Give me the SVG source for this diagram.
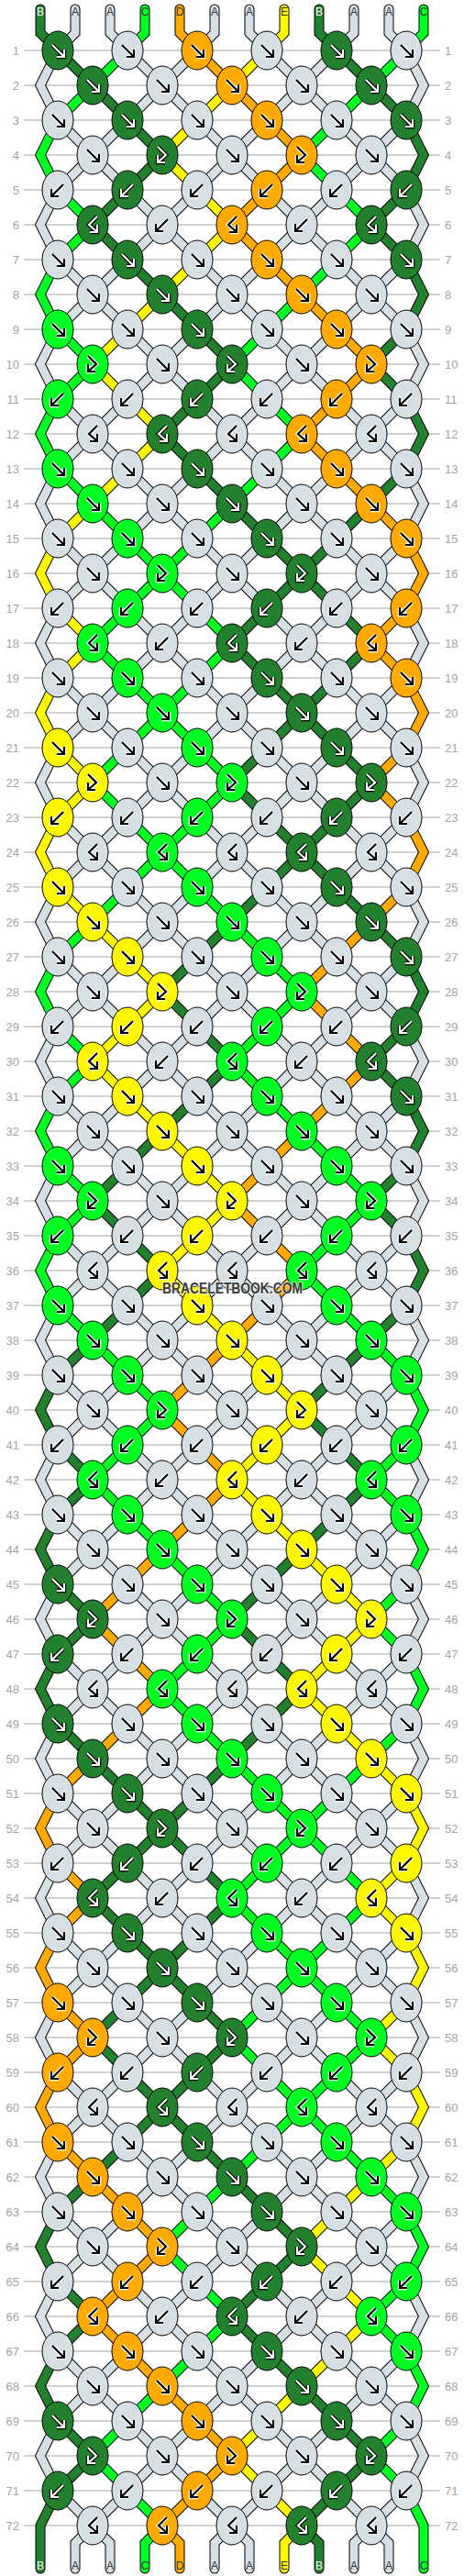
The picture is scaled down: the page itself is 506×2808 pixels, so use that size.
<svg xmlns="http://www.w3.org/2000/svg" width="506" height="2808" viewBox="0 0 506 2808">
<style>
.n{font-family:"Liberation Sans",Arial,sans-serif;font-size:13px;fill:#a3a3a3}
.ne{text-anchor:end}
.lb{font-family:"Liberation Sans",Arial,sans-serif;font-size:12px;text-anchor:middle;fill:#333}
.lw{fill:#fff}
</style>
<defs>
<path id="pf" fill="none" d="M-6-6L6 6M-1 7H7V-1"/>
<path id="pb" fill="none" d="M6-6L-6 6M1 7H-7V-1"/>
<path id="pfb" fill="none" d="M-5-9L4 0L-4 7M-5 0V8H3"/>
<path id="pbf" fill="none" d="M5-9L-4 0L4 7M5 0V8H-3"/>
<g id="wf"><use href="#pf" stroke="#000" stroke-width="4.4"/><use href="#pf" stroke="#fff" stroke-width="2.2"/></g>
<g id="wb"><use href="#pb" stroke="#000" stroke-width="4.4"/><use href="#pb" stroke="#fff" stroke-width="2.2"/></g>
<g id="wfb"><use href="#pfb" stroke="#000" stroke-width="4.4"/><use href="#pfb" stroke="#fff" stroke-width="2.2"/></g>
<g id="wbf"><use href="#pbf" stroke="#000" stroke-width="4.4"/><use href="#pbf" stroke="#fff" stroke-width="2.2"/></g>
<g id="kf"><use href="#pf" stroke="#fff" stroke-width="4.4"/><use href="#pf" stroke="#000" stroke-width="2.2"/></g>
<g id="kb"><use href="#pb" stroke="#fff" stroke-width="4.4"/><use href="#pb" stroke="#000" stroke-width="2.2"/></g>
<g id="kfb"><use href="#pfb" stroke="#fff" stroke-width="4.4"/><use href="#pfb" stroke="#000" stroke-width="2.2"/></g>
<g id="kbf"><use href="#pbf" stroke="#fff" stroke-width="4.4"/><use href="#pbf" stroke="#000" stroke-width="2.2"/></g>
<ellipse id="eG" rx="17" ry="21" fill="#22802f" stroke="#000"/>
<ellipse id="ea" rx="17" ry="21" fill="#d6dfe4" stroke="#000"/>
<ellipse id="eL" rx="17" ry="21" fill="#00ff22" stroke="#000"/>
<ellipse id="eO" rx="17" ry="21" fill="#ffaa00" stroke="#000"/>
<ellipse id="eY" rx="17" ry="21" fill="#fff700" stroke="#000"/>
<g id="Gf"><use href="#eG"/><use href="#wf"/></g>
<g id="Gb"><use href="#eG"/><use href="#wb"/></g>
<g id="Gfb"><use href="#eG"/><use href="#wfb"/></g>
<g id="Gbf"><use href="#eG"/><use href="#wbf"/></g>
<g id="af"><use href="#ea"/><use href="#kf"/></g>
<g id="ab"><use href="#ea"/><use href="#kb"/></g>
<g id="afb"><use href="#ea"/><use href="#kfb"/></g>
<g id="abf"><use href="#ea"/><use href="#kbf"/></g>
<g id="Lf"><use href="#eL"/><use href="#kf"/></g>
<g id="Lb"><use href="#eL"/><use href="#kb"/></g>
<g id="Lfb"><use href="#eL"/><use href="#kfb"/></g>
<g id="Lbf"><use href="#eL"/><use href="#kbf"/></g>
<g id="Of"><use href="#eO"/><use href="#kf"/></g>
<g id="Ob"><use href="#eO"/><use href="#kb"/></g>
<g id="Ofb"><use href="#eO"/><use href="#kfb"/></g>
<g id="Obf"><use href="#eO"/><use href="#kbf"/></g>
<g id="Yf"><use href="#eY"/><use href="#kf"/></g>
<g id="Yb"><use href="#eY"/><use href="#kb"/></g>
<g id="Yfb"><use href="#eY"/><use href="#kfb"/></g>
<g id="Ybf"><use href="#eY"/><use href="#kbf"/></g>
<path id="s0" d="M44 10V36L63 55l
38,38 38,38 38,38 -38,38 -38,38 38,38 38,38 38,38 38,38 -38,38 -38,38 38,38
38,38 38,38 38,38 -38,38 -38,38 38,38 38,38 38,38 38,38 -38,38 -38,38 38,38
38,38 38,38 19,38 -19,38 -38,38 38,38 19,38 -19,38 -38,38 38,38 19,38 -19,38
-38,38 -38,38 -38,38 38,38 38,38 -38,38 -38,38 -38,38 -38,38 38,38 38,38 -38,38
-38,38 -38,38 -38,38 38,38 38,38 -38,38 -38,38 -38,38 -38,38 38,38 38,38 -38,38
-38,38 -38,38 -19,38 19,38 38,38 -38,38 -19,38 19,38 38,38 -38,38 -19,38
V2800"/>
<path id="s3" d="M158 10V36L139 55l
-38,38 -38,38 -19,38 19,38 38,38 -38,38 -19,38 19,38 38,38 -38,38 -19,38 19,38
38,38 38,38 38,38 -38,38 -38,38 38,38 38,38 38,38 38,38 -38,38 -38,38 38,38
38,38 38,38 38,38 -38,38 -38,38 38,38 38,38 38,38 38,38 -38,38 -38,38 38,38
38,38 38,38 19,38 -19,38 -38,38 38,38 19,38 -19,38 -38,38 38,38 19,38 -19,38
-38,38 -38,38 -38,38 38,38 38,38 -38,38 -38,38 -38,38 -38,38 38,38 38,38 -38,38
-38,38 -38,38 -38,38 38,38 38,38 -38,38 -38,38 -38,38 -38,38 38,38 38,38
L158 2772V2800"/>
<path id="s4" d="M196 10V36L215 55l
38,38 38,38 38,38 -38,38 -38,38 38,38 38,38 38,38 38,38 -38,38 -38,38 38,38
38,38 38,38 19,38 -19,38 -38,38 38,38 19,38 -19,38 -38,38 38,38 19,38 -19,38
-38,38 -38,38 -38,38 38,38 38,38 -38,38 -38,38 -38,38 -38,38 38,38 38,38 -38,38
-38,38 -38,38 -38,38 38,38 38,38 -38,38 -38,38 -38,38 -38,38 38,38 38,38 -38,38
-38,38 -38,38 -19,38 19,38 38,38 -38,38 -19,38 19,38 38,38 -38,38 -19,38 19,38
38,38 38,38 38,38 -38,38 -38,38 38,38 38,38 38,38 38,38 -38,38 -38,38
L196 2772V2800"/>
<path id="s7" d="M310 10V36L291 55l
-38,38 -38,38 -38,38 38,38 38,38 -38,38 -38,38 -38,38 -38,38 38,38 38,38 -38,38
-38,38 -38,38 -19,38 19,38 38,38 -38,38 -19,38 19,38 38,38 -38,38 -19,38 19,38
38,38 38,38 38,38 -38,38 -38,38 38,38 38,38 38,38 38,38 -38,38 -38,38 38,38
38,38 38,38 38,38 -38,38 -38,38 38,38 38,38 38,38 38,38 -38,38 -38,38 38,38
38,38 38,38 19,38 -19,38 -38,38 38,38 19,38 -19,38 -38,38 38,38 19,38 -19,38
-38,38 -38,38 -38,38 38,38 38,38 -38,38 -38,38 -38,38 -38,38 38,38 38,38
L310 2772V2800"/>
<path id="s8" d="M348 10V36L367 55l
38,38 38,38 19,38 -19,38 -38,38 38,38 19,38 -19,38 -38,38 38,38 19,38 -19,38
-38,38 -38,38 -38,38 38,38 38,38 -38,38 -38,38 -38,38 -38,38 38,38 38,38 -38,38
-38,38 -38,38 -38,38 38,38 38,38 -38,38 -38,38 -38,38 -38,38 38,38 38,38 -38,38
-38,38 -38,38 -19,38 19,38 38,38 -38,38 -19,38 19,38 38,38 -38,38 -19,38 19,38
38,38 38,38 38,38 -38,38 -38,38 38,38 38,38 38,38 38,38 -38,38 -38,38 38,38
38,38 38,38 38,38 -38,38 -38,38 38,38 38,38 38,38 38,38 -38,38 -38,38
L348 2772V2800"/>
<path id="s11" d="M462 10V36L443 55l
-38,38 -38,38 -38,38 38,38 38,38 -38,38 -38,38 -38,38 -38,38 38,38 38,38 -38,38
-38,38 -38,38 -38,38 38,38 38,38 -38,38 -38,38 -38,38 -38,38 38,38 38,38 -38,38
-38,38 -38,38 -19,38 19,38 38,38 -38,38 -19,38 19,38 38,38 -38,38 -19,38 19,38
38,38 38,38 38,38 -38,38 -38,38 38,38 38,38 38,38 38,38 -38,38 -38,38 38,38
38,38 38,38 38,38 -38,38 -38,38 38,38 38,38 38,38 38,38 -38,38 -38,38 38,38
38,38 38,38 19,38 -19,38 -38,38 38,38 19,38 -19,38 -38,38 38,38 19,38
V2800"/>
<path id="s1" d="M82 10V36L63 55l
-19,38 19,38 38,38 38,38 38,38 38,38 38,38 38,38 38,38 38,38 38,38 -38,38
-38,38 -38,38 -38,38 -38,38 -38,38 -38,38 -38,38 -38,38 -19,38 19,38 38,38 -38,38
-19,38 19,38 38,38 38,38 38,38 38,38 38,38 38,38 38,38 38,38 38,38 -38,38
-38,38 -38,38 -38,38 -38,38 -38,38 -38,38 -38,38 -38,38 -19,38 19,38 38,38 -38,38
-19,38 19,38 38,38 38,38 38,38 38,38 38,38 38,38 38,38 38,38 38,38 -38,38
-38,38 -38,38 -38,38 -38,38 -38,38 -38,38 -38,38 -38,38 -19,38 19,38 38,38
L82 2772V2800"/>
<path id="s9" d="M386 10V36L367 55l
-38,38 -38,38 -38,38 -38,38 -38,38 -38,38 -38,38 -38,38 -19,38 19,38 38,38 -38,38
-19,38 19,38 38,38 38,38 38,38 38,38 38,38 38,38 38,38 38,38 38,38 -38,38
-38,38 -38,38 -38,38 -38,38 -38,38 -38,38 -38,38 -38,38 -19,38 19,38 38,38 -38,38
-19,38 19,38 38,38 38,38 38,38 38,38 38,38 38,38 38,38 38,38 38,38 -38,38
-38,38 -38,38 -38,38 -38,38 -38,38 -38,38 -38,38 -38,38 -19,38 19,38 38,38 -38,38
-19,38 19,38 38,38 38,38 38,38 38,38 38,38 38,38 38,38 38,38 38,38
L386 2772V2800"/>
<path id="s2" d="M120 10V36L139 55l
38,38 38,38 38,38 38,38 38,38 38,38 38,38 38,38 19,38 -19,38 -38,38 38,38
19,38 -19,38 -38,38 -38,38 -38,38 -38,38 -38,38 -38,38 -38,38 -38,38 -38,38 38,38
38,38 38,38 38,38 38,38 38,38 38,38 38,38 38,38 19,38 -19,38 -38,38 38,38
19,38 -19,38 -38,38 -38,38 -38,38 -38,38 -38,38 -38,38 -38,38 -38,38 -38,38 38,38
38,38 38,38 38,38 38,38 38,38 38,38 38,38 38,38 19,38 -19,38 -38,38 38,38
19,38 -19,38 -38,38 -38,38 -38,38 -38,38 -38,38 -38,38 -38,38 -38,38 -38,38
L120 2772V2800"/>
<path id="s10" d="M424 10V36L443 55l
19,38 -19,38 -38,38 -38,38 -38,38 -38,38 -38,38 -38,38 -38,38 -38,38 -38,38 38,38
38,38 38,38 38,38 38,38 38,38 38,38 38,38 38,38 19,38 -19,38 -38,38 38,38
19,38 -19,38 -38,38 -38,38 -38,38 -38,38 -38,38 -38,38 -38,38 -38,38 -38,38 38,38
38,38 38,38 38,38 38,38 38,38 38,38 38,38 38,38 19,38 -19,38 -38,38 38,38
19,38 -19,38 -38,38 -38,38 -38,38 -38,38 -38,38 -38,38 -38,38 -38,38 -38,38 38,38
38,38 38,38 38,38 38,38 38,38 38,38 38,38 38,38 19,38 -19,38 -38,38
L424 2772V2800"/>
<path id="s5" d="M234 10V36L215 55l
-38,38 -38,38 -38,38 -38,38 -19,38 19,38 38,38 38,38 38,38 38,38 38,38 -38,38
-38,38 -38,38 -38,38 -38,38 -19,38 19,38 38,38 38,38 38,38 38,38 38,38 -38,38
-38,38 -38,38 -38,38 -38,38 -19,38 19,38 38,38 38,38 38,38 38,38 38,38 -38,38
-38,38 -38,38 -38,38 -38,38 -19,38 19,38 38,38 38,38 38,38 38,38 38,38 -38,38
-38,38 -38,38 -38,38 -38,38 -19,38 19,38 38,38 38,38 38,38 38,38 38,38 -38,38
-38,38 -38,38 -38,38 -38,38 -19,38 19,38 38,38 38,38 38,38 38,38 38,38
L234 2772V2800"/>
<path id="s6" d="M272 10V36L291 55l
38,38 38,38 38,38 38,38 19,38 -19,38 -38,38 -38,38 -38,38 -38,38 -38,38 38,38
38,38 38,38 38,38 38,38 19,38 -19,38 -38,38 -38,38 -38,38 -38,38 -38,38 38,38
38,38 38,38 38,38 38,38 19,38 -19,38 -38,38 -38,38 -38,38 -38,38 -38,38 38,38
38,38 38,38 38,38 38,38 19,38 -19,38 -38,38 -38,38 -38,38 -38,38 -38,38 38,38
38,38 38,38 38,38 38,38 19,38 -19,38 -38,38 -38,38 -38,38 -38,38 -38,38 38,38
38,38 38,38 38,38 38,38 19,38 -19,38 -38,38 -38,38 -38,38 -38,38 -38,38
L272 2772V2800"/>
</defs>
<rect width="506" height="2808" fill="#fff"/>
<g id="rowlines">
<path fill="none" stroke="#c4c4c4" stroke-width="1.3" d="M26 55h454
m-454 38h454m-454 38h454m-454 38h454m-454 38h454m-454 38h454m-454 38h454m-454 38h454m-454 38h454m-454 38h454m-454 38h454
m-454 38h454m-454 38h454m-454 38h454m-454 38h454m-454 38h454m-454 38h454m-454 38h454m-454 38h454m-454 38h454m-454 38h454
m-454 38h454m-454 38h454m-454 38h454m-454 38h454m-454 38h454m-454 38h454m-454 38h454m-454 38h454m-454 38h454m-454 38h454
m-454 38h454m-454 38h454m-454 38h454m-454 38h454m-454 38h454m-454 38h454m-454 38h454m-454 38h454m-454 38h454m-454 38h454
m-454 38h454m-454 38h454m-454 38h454m-454 38h454m-454 38h454m-454 38h454m-454 38h454m-454 38h454m-454 38h454m-454 38h454
m-454 38h454m-454 38h454m-454 38h454m-454 38h454m-454 38h454m-454 38h454m-454 38h454m-454 38h454m-454 38h454m-454 38h454
m-454 38h454m-454 38h454m-454 38h454m-454 38h454m-454 38h454m-454 38h454m-454 38h454m-454 38h454m-454 38h454m-454 38h454
m-454 38h454"/>
</g>
<g id="rownumbers-left" class="n ne">
<text x="21" y="60">1</text><text x="21" y="98">2</text><text x="21" y="136">3</text><text x="21" y="174">4</text><text x="21" y="212">5</text><text x="21" y="250">6</text><text x="21" y="288">7</text><text x="21" y="326">8</text><text x="21" y="364">9</text><text x="21" y="402">10</text><text x="21" y="440">11</text><text x="21" y="478">12</text>
<text x="21" y="516">13</text><text x="21" y="554">14</text><text x="21" y="592">15</text><text x="21" y="630">16</text><text x="21" y="668">17</text><text x="21" y="706">18</text><text x="21" y="744">19</text><text x="21" y="782">20</text><text x="21" y="820">21</text><text x="21" y="858">22</text><text x="21" y="896">23</text><text x="21" y="934">24</text>
<text x="21" y="972">25</text><text x="21" y="1010">26</text><text x="21" y="1048">27</text><text x="21" y="1086">28</text><text x="21" y="1124">29</text><text x="21" y="1162">30</text><text x="21" y="1200">31</text><text x="21" y="1238">32</text><text x="21" y="1276">33</text><text x="21" y="1314">34</text><text x="21" y="1352">35</text><text x="21" y="1390">36</text>
<text x="21" y="1428">37</text><text x="21" y="1466">38</text><text x="21" y="1504">39</text><text x="21" y="1542">40</text><text x="21" y="1580">41</text><text x="21" y="1618">42</text><text x="21" y="1656">43</text><text x="21" y="1694">44</text><text x="21" y="1732">45</text><text x="21" y="1770">46</text><text x="21" y="1808">47</text><text x="21" y="1846">48</text>
<text x="21" y="1884">49</text><text x="21" y="1922">50</text><text x="21" y="1960">51</text><text x="21" y="1998">52</text><text x="21" y="2036">53</text><text x="21" y="2074">54</text><text x="21" y="2112">55</text><text x="21" y="2150">56</text><text x="21" y="2188">57</text><text x="21" y="2226">58</text><text x="21" y="2264">59</text><text x="21" y="2302">60</text>
<text x="21" y="2340">61</text><text x="21" y="2378">62</text><text x="21" y="2416">63</text><text x="21" y="2454">64</text><text x="21" y="2492">65</text><text x="21" y="2530">66</text><text x="21" y="2568">67</text><text x="21" y="2606">68</text><text x="21" y="2644">69</text><text x="21" y="2682">70</text><text x="21" y="2720">71</text><text x="21" y="2758">72</text>
</g>
<g id="rownumbers-right" class="n">
<text x="485" y="60">1</text><text x="485" y="98">2</text><text x="485" y="136">3</text><text x="485" y="174">4</text><text x="485" y="212">5</text><text x="485" y="250">6</text><text x="485" y="288">7</text><text x="485" y="326">8</text><text x="485" y="364">9</text><text x="485" y="402">10</text><text x="485" y="440">11</text><text x="485" y="478">12</text>
<text x="485" y="516">13</text><text x="485" y="554">14</text><text x="485" y="592">15</text><text x="485" y="630">16</text><text x="485" y="668">17</text><text x="485" y="706">18</text><text x="485" y="744">19</text><text x="485" y="782">20</text><text x="485" y="820">21</text><text x="485" y="858">22</text><text x="485" y="896">23</text><text x="485" y="934">24</text>
<text x="485" y="972">25</text><text x="485" y="1010">26</text><text x="485" y="1048">27</text><text x="485" y="1086">28</text><text x="485" y="1124">29</text><text x="485" y="1162">30</text><text x="485" y="1200">31</text><text x="485" y="1238">32</text><text x="485" y="1276">33</text><text x="485" y="1314">34</text><text x="485" y="1352">35</text><text x="485" y="1390">36</text>
<text x="485" y="1428">37</text><text x="485" y="1466">38</text><text x="485" y="1504">39</text><text x="485" y="1542">40</text><text x="485" y="1580">41</text><text x="485" y="1618">42</text><text x="485" y="1656">43</text><text x="485" y="1694">44</text><text x="485" y="1732">45</text><text x="485" y="1770">46</text><text x="485" y="1808">47</text><text x="485" y="1846">48</text>
<text x="485" y="1884">49</text><text x="485" y="1922">50</text><text x="485" y="1960">51</text><text x="485" y="1998">52</text><text x="485" y="2036">53</text><text x="485" y="2074">54</text><text x="485" y="2112">55</text><text x="485" y="2150">56</text><text x="485" y="2188">57</text><text x="485" y="2226">58</text><text x="485" y="2264">59</text><text x="485" y="2302">60</text>
<text x="485" y="2340">61</text><text x="485" y="2378">62</text><text x="485" y="2416">63</text><text x="485" y="2454">64</text><text x="485" y="2492">65</text><text x="485" y="2530">66</text><text x="485" y="2568">67</text><text x="485" y="2606">68</text><text x="485" y="2644">69</text><text x="485" y="2682">70</text><text x="485" y="2720">71</text><text x="485" y="2758">72</text>
</g>
<g id="connectors" fill="none" stroke-linecap="round" stroke-linejoin="miter">
<g stroke="#000" stroke-width="11"><use href="#s0"/><use href="#s1"/><use href="#s2"/><use href="#s3"/><use href="#s4"/><use href="#s5"/><use href="#s6"/><use href="#s7"/><use href="#s8"/><use href="#s9"/><use href="#s10"/><use href="#s11"/></g>
<g stroke="#d6dfe4" stroke-width="9"><use href="#s1"/><use href="#s2"/><use href="#s5"/><use href="#s6"/><use href="#s9"/><use href="#s10"/></g>
<g stroke="#22802f" stroke-width="9"><use href="#s0"/><use href="#s8"/></g>
<g stroke="#00ff22" stroke-width="9"><use href="#s3"/><use href="#s11"/></g>
<g stroke="#ffaa00" stroke-width="9"><use href="#s4"/></g>
<g stroke="#fff700" stroke-width="9"><use href="#s7"/></g>
</g>
<g id="string-labels" class="lb">
<text class="lw" x="44" y="17">B</text><text x="82" y="17">A</text><text x="120" y="17">A</text><text x="158" y="17">C</text><text x="196" y="17">D</text><text x="234" y="17">A</text><text x="272" y="17">A</text><text x="310" y="17">E</text><text class="lw" x="348" y="17">B</text><text x="386" y="17">A</text><text x="424" y="17">A</text><text x="462" y="17">C</text>
<text class="lw" x="44" y="2801">B</text><text x="82" y="2801">A</text><text x="120" y="2801">A</text><text x="158" y="2801">C</text><text x="196" y="2801">D</text><text x="234" y="2801">A</text><text x="272" y="2801">A</text><text x="310" y="2801">E</text><text class="lw" x="348" y="2801">B</text><text x="386" y="2801">A</text><text x="424" y="2801">A</text><text x="462" y="2801">C</text>
</g>
<g id="knots">
<g id="k1-1"><use href="#Gf" x="63" y="55"/></g><g id="k1-2"><use href="#af" x="139" y="55"/></g><g id="k1-3"><use href="#Of" x="215" y="55"/></g><g id="k1-4"><use href="#af" x="291" y="55"/></g><g id="k1-5"><use href="#Gf" x="367" y="55"/></g><g id="k1-6"><use href="#af" x="443" y="55"/></g>
<g id="k2-1"><use href="#Gf" x="101" y="93"/></g><g id="k2-2"><use href="#af" x="177" y="93"/></g><g id="k2-3"><use href="#Of" x="253" y="93"/></g><g id="k2-4"><use href="#af" x="329" y="93"/></g><g id="k2-5"><use href="#Gf" x="405" y="93"/></g>
<g id="k3-1"><use href="#af" x="63" y="131"/></g><g id="k3-2"><use href="#Gf" x="139" y="131"/></g><g id="k3-3"><use href="#af" x="215" y="131"/></g><g id="k3-4"><use href="#Of" x="291" y="131"/></g><g id="k3-5"><use href="#af" x="367" y="131"/></g><g id="k3-6"><use href="#Gf" x="443" y="131"/></g>
<g id="k4-1"><use href="#af" x="101" y="169"/></g><g id="k4-2"><use href="#Gfb" x="177" y="169"/></g><g id="k4-3"><use href="#af" x="253" y="169"/></g><g id="k4-4"><use href="#Ofb" x="329" y="169"/></g><g id="k4-5"><use href="#af" x="405" y="169"/></g>
<g id="k5-1"><use href="#ab" x="63" y="207"/></g><g id="k5-2"><use href="#Gb" x="139" y="207"/></g><g id="k5-3"><use href="#ab" x="215" y="207"/></g><g id="k5-4"><use href="#Ob" x="291" y="207"/></g><g id="k5-5"><use href="#ab" x="367" y="207"/></g><g id="k5-6"><use href="#Gb" x="443" y="207"/></g>
<g id="k6-1"><use href="#Gbf" x="101" y="245"/></g><g id="k6-2"><use href="#ab" x="177" y="245"/></g><g id="k6-3"><use href="#Obf" x="253" y="245"/></g><g id="k6-4"><use href="#ab" x="329" y="245"/></g><g id="k6-5"><use href="#Gbf" x="405" y="245"/></g>
<g id="k7-1"><use href="#af" x="63" y="283"/></g><g id="k7-2"><use href="#Gf" x="139" y="283"/></g><g id="k7-3"><use href="#af" x="215" y="283"/></g><g id="k7-4"><use href="#Of" x="291" y="283"/></g><g id="k7-5"><use href="#af" x="367" y="283"/></g><g id="k7-6"><use href="#Gf" x="443" y="283"/></g>
<g id="k8-1"><use href="#af" x="101" y="321"/></g><g id="k8-2"><use href="#Gf" x="177" y="321"/></g><g id="k8-3"><use href="#af" x="253" y="321"/></g><g id="k8-4"><use href="#Of" x="329" y="321"/></g><g id="k8-5"><use href="#af" x="405" y="321"/></g>
<g id="k9-1"><use href="#Lf" x="63" y="359"/></g><g id="k9-2"><use href="#af" x="139" y="359"/></g><g id="k9-3"><use href="#Gf" x="215" y="359"/></g><g id="k9-4"><use href="#af" x="291" y="359"/></g><g id="k9-5"><use href="#Of" x="367" y="359"/></g><g id="k9-6"><use href="#af" x="443" y="359"/></g>
<g id="k10-1"><use href="#Lfb" x="101" y="397"/></g><g id="k10-2"><use href="#af" x="177" y="397"/></g><g id="k10-3"><use href="#Gfb" x="253" y="397"/></g><g id="k10-4"><use href="#af" x="329" y="397"/></g><g id="k10-5"><use href="#Ofb" x="405" y="397"/></g>
<g id="k11-1"><use href="#Lb" x="63" y="435"/></g><g id="k11-2"><use href="#ab" x="139" y="435"/></g><g id="k11-3"><use href="#Gb" x="215" y="435"/></g><g id="k11-4"><use href="#ab" x="291" y="435"/></g><g id="k11-5"><use href="#Ob" x="367" y="435"/></g><g id="k11-6"><use href="#ab" x="443" y="435"/></g>
<g id="k12-1"><use href="#abf" x="101" y="473"/></g><g id="k12-2"><use href="#Gbf" x="177" y="473"/></g><g id="k12-3"><use href="#abf" x="253" y="473"/></g><g id="k12-4"><use href="#Obf" x="329" y="473"/></g><g id="k12-5"><use href="#abf" x="405" y="473"/></g>
<g id="k13-1"><use href="#Lf" x="63" y="511"/></g><g id="k13-2"><use href="#af" x="139" y="511"/></g><g id="k13-3"><use href="#Gf" x="215" y="511"/></g><g id="k13-4"><use href="#af" x="291" y="511"/></g><g id="k13-5"><use href="#Of" x="367" y="511"/></g><g id="k13-6"><use href="#af" x="443" y="511"/></g>
<g id="k14-1"><use href="#Lf" x="101" y="549"/></g><g id="k14-2"><use href="#af" x="177" y="549"/></g><g id="k14-3"><use href="#Gf" x="253" y="549"/></g><g id="k14-4"><use href="#af" x="329" y="549"/></g><g id="k14-5"><use href="#Of" x="405" y="549"/></g>
<g id="k15-1"><use href="#af" x="63" y="587"/></g><g id="k15-2"><use href="#Lf" x="139" y="587"/></g><g id="k15-3"><use href="#af" x="215" y="587"/></g><g id="k15-4"><use href="#Gf" x="291" y="587"/></g><g id="k15-5"><use href="#af" x="367" y="587"/></g><g id="k15-6"><use href="#Of" x="443" y="587"/></g>
<g id="k16-1"><use href="#af" x="101" y="625"/></g><g id="k16-2"><use href="#Lfb" x="177" y="625"/></g><g id="k16-3"><use href="#af" x="253" y="625"/></g><g id="k16-4"><use href="#Gfb" x="329" y="625"/></g><g id="k16-5"><use href="#af" x="405" y="625"/></g>
<g id="k17-1"><use href="#ab" x="63" y="663"/></g><g id="k17-2"><use href="#Lb" x="139" y="663"/></g><g id="k17-3"><use href="#ab" x="215" y="663"/></g><g id="k17-4"><use href="#Gb" x="291" y="663"/></g><g id="k17-5"><use href="#ab" x="367" y="663"/></g><g id="k17-6"><use href="#Ob" x="443" y="663"/></g>
<g id="k18-1"><use href="#Lbf" x="101" y="701"/></g><g id="k18-2"><use href="#ab" x="177" y="701"/></g><g id="k18-3"><use href="#Gbf" x="253" y="701"/></g><g id="k18-4"><use href="#ab" x="329" y="701"/></g><g id="k18-5"><use href="#Obf" x="405" y="701"/></g>
<g id="k19-1"><use href="#af" x="63" y="739"/></g><g id="k19-2"><use href="#Lf" x="139" y="739"/></g><g id="k19-3"><use href="#af" x="215" y="739"/></g><g id="k19-4"><use href="#Gf" x="291" y="739"/></g><g id="k19-5"><use href="#af" x="367" y="739"/></g><g id="k19-6"><use href="#Of" x="443" y="739"/></g>
<g id="k20-1"><use href="#af" x="101" y="777"/></g><g id="k20-2"><use href="#Lf" x="177" y="777"/></g><g id="k20-3"><use href="#af" x="253" y="777"/></g><g id="k20-4"><use href="#Gf" x="329" y="777"/></g><g id="k20-5"><use href="#af" x="405" y="777"/></g>
<g id="k21-1"><use href="#Yf" x="63" y="815"/></g><g id="k21-2"><use href="#af" x="139" y="815"/></g><g id="k21-3"><use href="#Lf" x="215" y="815"/></g><g id="k21-4"><use href="#af" x="291" y="815"/></g><g id="k21-5"><use href="#Gf" x="367" y="815"/></g><g id="k21-6"><use href="#af" x="443" y="815"/></g>
<g id="k22-1"><use href="#Yfb" x="101" y="853"/></g><g id="k22-2"><use href="#af" x="177" y="853"/></g><g id="k22-3"><use href="#Lfb" x="253" y="853"/></g><g id="k22-4"><use href="#af" x="329" y="853"/></g><g id="k22-5"><use href="#Gfb" x="405" y="853"/></g>
<g id="k23-1"><use href="#Yb" x="63" y="891"/></g><g id="k23-2"><use href="#ab" x="139" y="891"/></g><g id="k23-3"><use href="#Lb" x="215" y="891"/></g><g id="k23-4"><use href="#ab" x="291" y="891"/></g><g id="k23-5"><use href="#Gb" x="367" y="891"/></g><g id="k23-6"><use href="#ab" x="443" y="891"/></g>
<g id="k24-1"><use href="#abf" x="101" y="929"/></g><g id="k24-2"><use href="#Lbf" x="177" y="929"/></g><g id="k24-3"><use href="#abf" x="253" y="929"/></g><g id="k24-4"><use href="#Gbf" x="329" y="929"/></g><g id="k24-5"><use href="#abf" x="405" y="929"/></g>
<g id="k25-1"><use href="#Yf" x="63" y="967"/></g><g id="k25-2"><use href="#af" x="139" y="967"/></g><g id="k25-3"><use href="#Lf" x="215" y="967"/></g><g id="k25-4"><use href="#af" x="291" y="967"/></g><g id="k25-5"><use href="#Gf" x="367" y="967"/></g><g id="k25-6"><use href="#af" x="443" y="967"/></g>
<g id="k26-1"><use href="#Yf" x="101" y="1005"/></g><g id="k26-2"><use href="#af" x="177" y="1005"/></g><g id="k26-3"><use href="#Lf" x="253" y="1005"/></g><g id="k26-4"><use href="#af" x="329" y="1005"/></g><g id="k26-5"><use href="#Gf" x="405" y="1005"/></g>
<g id="k27-1"><use href="#af" x="63" y="1043"/></g><g id="k27-2"><use href="#Yf" x="139" y="1043"/></g><g id="k27-3"><use href="#af" x="215" y="1043"/></g><g id="k27-4"><use href="#Lf" x="291" y="1043"/></g><g id="k27-5"><use href="#af" x="367" y="1043"/></g><g id="k27-6"><use href="#Gf" x="443" y="1043"/></g>
<g id="k28-1"><use href="#af" x="101" y="1081"/></g><g id="k28-2"><use href="#Yfb" x="177" y="1081"/></g><g id="k28-3"><use href="#af" x="253" y="1081"/></g><g id="k28-4"><use href="#Lfb" x="329" y="1081"/></g><g id="k28-5"><use href="#af" x="405" y="1081"/></g>
<g id="k29-1"><use href="#ab" x="63" y="1119"/></g><g id="k29-2"><use href="#Yb" x="139" y="1119"/></g><g id="k29-3"><use href="#ab" x="215" y="1119"/></g><g id="k29-4"><use href="#Lb" x="291" y="1119"/></g><g id="k29-5"><use href="#ab" x="367" y="1119"/></g><g id="k29-6"><use href="#Gb" x="443" y="1119"/></g>
<g id="k30-1"><use href="#Ybf" x="101" y="1157"/></g><g id="k30-2"><use href="#ab" x="177" y="1157"/></g><g id="k30-3"><use href="#Lbf" x="253" y="1157"/></g><g id="k30-4"><use href="#ab" x="329" y="1157"/></g><g id="k30-5"><use href="#Gbf" x="405" y="1157"/></g>
<g id="k31-1"><use href="#af" x="63" y="1195"/></g><g id="k31-2"><use href="#Yf" x="139" y="1195"/></g><g id="k31-3"><use href="#af" x="215" y="1195"/></g><g id="k31-4"><use href="#Lf" x="291" y="1195"/></g><g id="k31-5"><use href="#af" x="367" y="1195"/></g><g id="k31-6"><use href="#Gf" x="443" y="1195"/></g>
<g id="k32-1"><use href="#af" x="101" y="1233"/></g><g id="k32-2"><use href="#Yf" x="177" y="1233"/></g><g id="k32-3"><use href="#af" x="253" y="1233"/></g><g id="k32-4"><use href="#Lf" x="329" y="1233"/></g><g id="k32-5"><use href="#af" x="405" y="1233"/></g>
<g id="k33-1"><use href="#Lf" x="63" y="1271"/></g><g id="k33-2"><use href="#af" x="139" y="1271"/></g><g id="k33-3"><use href="#Yf" x="215" y="1271"/></g><g id="k33-4"><use href="#af" x="291" y="1271"/></g><g id="k33-5"><use href="#Lf" x="367" y="1271"/></g><g id="k33-6"><use href="#af" x="443" y="1271"/></g>
<g id="k34-1"><use href="#Lfb" x="101" y="1309"/></g><g id="k34-2"><use href="#af" x="177" y="1309"/></g><g id="k34-3"><use href="#Yfb" x="253" y="1309"/></g><g id="k34-4"><use href="#af" x="329" y="1309"/></g><g id="k34-5"><use href="#Lfb" x="405" y="1309"/></g>
<g id="k35-1"><use href="#Lb" x="63" y="1347"/></g><g id="k35-2"><use href="#ab" x="139" y="1347"/></g><g id="k35-3"><use href="#Yb" x="215" y="1347"/></g><g id="k35-4"><use href="#ab" x="291" y="1347"/></g><g id="k35-5"><use href="#Lb" x="367" y="1347"/></g><g id="k35-6"><use href="#ab" x="443" y="1347"/></g>
<g id="k36-1"><use href="#abf" x="101" y="1385"/></g><g id="k36-2"><use href="#Ybf" x="177" y="1385"/></g><g id="k36-3"><use href="#abf" x="253" y="1385"/></g><g id="k36-4"><use href="#Lbf" x="329" y="1385"/></g><g id="k36-5"><use href="#abf" x="405" y="1385"/></g>
<g id="k37-1"><use href="#Lf" x="63" y="1423"/></g><g id="k37-2"><use href="#af" x="139" y="1423"/></g><g id="k37-3"><use href="#Yf" x="215" y="1423"/></g><g id="k37-4"><use href="#af" x="291" y="1423"/></g><g id="k37-5"><use href="#Lf" x="367" y="1423"/></g><g id="k37-6"><use href="#af" x="443" y="1423"/></g>
<g id="k38-1"><use href="#Lf" x="101" y="1461"/></g><g id="k38-2"><use href="#af" x="177" y="1461"/></g><g id="k38-3"><use href="#Yf" x="253" y="1461"/></g><g id="k38-4"><use href="#af" x="329" y="1461"/></g><g id="k38-5"><use href="#Lf" x="405" y="1461"/></g>
<g id="k39-1"><use href="#af" x="63" y="1499"/></g><g id="k39-2"><use href="#Lf" x="139" y="1499"/></g><g id="k39-3"><use href="#af" x="215" y="1499"/></g><g id="k39-4"><use href="#Yf" x="291" y="1499"/></g><g id="k39-5"><use href="#af" x="367" y="1499"/></g><g id="k39-6"><use href="#Lf" x="443" y="1499"/></g>
<g id="k40-1"><use href="#af" x="101" y="1537"/></g><g id="k40-2"><use href="#Lfb" x="177" y="1537"/></g><g id="k40-3"><use href="#af" x="253" y="1537"/></g><g id="k40-4"><use href="#Yfb" x="329" y="1537"/></g><g id="k40-5"><use href="#af" x="405" y="1537"/></g>
<g id="k41-1"><use href="#ab" x="63" y="1575"/></g><g id="k41-2"><use href="#Lb" x="139" y="1575"/></g><g id="k41-3"><use href="#ab" x="215" y="1575"/></g><g id="k41-4"><use href="#Yb" x="291" y="1575"/></g><g id="k41-5"><use href="#ab" x="367" y="1575"/></g><g id="k41-6"><use href="#Lb" x="443" y="1575"/></g>
<g id="k42-1"><use href="#Lbf" x="101" y="1613"/></g><g id="k42-2"><use href="#ab" x="177" y="1613"/></g><g id="k42-3"><use href="#Ybf" x="253" y="1613"/></g><g id="k42-4"><use href="#ab" x="329" y="1613"/></g><g id="k42-5"><use href="#Lbf" x="405" y="1613"/></g>
<g id="k43-1"><use href="#af" x="63" y="1651"/></g><g id="k43-2"><use href="#Lf" x="139" y="1651"/></g><g id="k43-3"><use href="#af" x="215" y="1651"/></g><g id="k43-4"><use href="#Yf" x="291" y="1651"/></g><g id="k43-5"><use href="#af" x="367" y="1651"/></g><g id="k43-6"><use href="#Lf" x="443" y="1651"/></g>
<g id="k44-1"><use href="#af" x="101" y="1689"/></g><g id="k44-2"><use href="#Lf" x="177" y="1689"/></g><g id="k44-3"><use href="#af" x="253" y="1689"/></g><g id="k44-4"><use href="#Yf" x="329" y="1689"/></g><g id="k44-5"><use href="#af" x="405" y="1689"/></g>
<g id="k45-1"><use href="#Gf" x="63" y="1727"/></g><g id="k45-2"><use href="#af" x="139" y="1727"/></g><g id="k45-3"><use href="#Lf" x="215" y="1727"/></g><g id="k45-4"><use href="#af" x="291" y="1727"/></g><g id="k45-5"><use href="#Yf" x="367" y="1727"/></g><g id="k45-6"><use href="#af" x="443" y="1727"/></g>
<g id="k46-1"><use href="#Gfb" x="101" y="1765"/></g><g id="k46-2"><use href="#af" x="177" y="1765"/></g><g id="k46-3"><use href="#Lfb" x="253" y="1765"/></g><g id="k46-4"><use href="#af" x="329" y="1765"/></g><g id="k46-5"><use href="#Yfb" x="405" y="1765"/></g>
<g id="k47-1"><use href="#Gb" x="63" y="1803"/></g><g id="k47-2"><use href="#ab" x="139" y="1803"/></g><g id="k47-3"><use href="#Lb" x="215" y="1803"/></g><g id="k47-4"><use href="#ab" x="291" y="1803"/></g><g id="k47-5"><use href="#Yb" x="367" y="1803"/></g><g id="k47-6"><use href="#ab" x="443" y="1803"/></g>
<g id="k48-1"><use href="#abf" x="101" y="1841"/></g><g id="k48-2"><use href="#Lbf" x="177" y="1841"/></g><g id="k48-3"><use href="#abf" x="253" y="1841"/></g><g id="k48-4"><use href="#Ybf" x="329" y="1841"/></g><g id="k48-5"><use href="#abf" x="405" y="1841"/></g>
<g id="k49-1"><use href="#Gf" x="63" y="1879"/></g><g id="k49-2"><use href="#af" x="139" y="1879"/></g><g id="k49-3"><use href="#Lf" x="215" y="1879"/></g><g id="k49-4"><use href="#af" x="291" y="1879"/></g><g id="k49-5"><use href="#Yf" x="367" y="1879"/></g><g id="k49-6"><use href="#af" x="443" y="1879"/></g>
<g id="k50-1"><use href="#Gf" x="101" y="1917"/></g><g id="k50-2"><use href="#af" x="177" y="1917"/></g><g id="k50-3"><use href="#Lf" x="253" y="1917"/></g><g id="k50-4"><use href="#af" x="329" y="1917"/></g><g id="k50-5"><use href="#Yf" x="405" y="1917"/></g>
<g id="k51-1"><use href="#af" x="63" y="1955"/></g><g id="k51-2"><use href="#Gf" x="139" y="1955"/></g><g id="k51-3"><use href="#af" x="215" y="1955"/></g><g id="k51-4"><use href="#Lf" x="291" y="1955"/></g><g id="k51-5"><use href="#af" x="367" y="1955"/></g><g id="k51-6"><use href="#Yf" x="443" y="1955"/></g>
<g id="k52-1"><use href="#af" x="101" y="1993"/></g><g id="k52-2"><use href="#Gfb" x="177" y="1993"/></g><g id="k52-3"><use href="#af" x="253" y="1993"/></g><g id="k52-4"><use href="#Lfb" x="329" y="1993"/></g><g id="k52-5"><use href="#af" x="405" y="1993"/></g>
<g id="k53-1"><use href="#ab" x="63" y="2031"/></g><g id="k53-2"><use href="#Gb" x="139" y="2031"/></g><g id="k53-3"><use href="#ab" x="215" y="2031"/></g><g id="k53-4"><use href="#Lb" x="291" y="2031"/></g><g id="k53-5"><use href="#ab" x="367" y="2031"/></g><g id="k53-6"><use href="#Yb" x="443" y="2031"/></g>
<g id="k54-1"><use href="#Gbf" x="101" y="2069"/></g><g id="k54-2"><use href="#ab" x="177" y="2069"/></g><g id="k54-3"><use href="#Lbf" x="253" y="2069"/></g><g id="k54-4"><use href="#ab" x="329" y="2069"/></g><g id="k54-5"><use href="#Ybf" x="405" y="2069"/></g>
<g id="k55-1"><use href="#af" x="63" y="2107"/></g><g id="k55-2"><use href="#Gf" x="139" y="2107"/></g><g id="k55-3"><use href="#af" x="215" y="2107"/></g><g id="k55-4"><use href="#Lf" x="291" y="2107"/></g><g id="k55-5"><use href="#af" x="367" y="2107"/></g><g id="k55-6"><use href="#Yf" x="443" y="2107"/></g>
<g id="k56-1"><use href="#af" x="101" y="2145"/></g><g id="k56-2"><use href="#Gf" x="177" y="2145"/></g><g id="k56-3"><use href="#af" x="253" y="2145"/></g><g id="k56-4"><use href="#Lf" x="329" y="2145"/></g><g id="k56-5"><use href="#af" x="405" y="2145"/></g>
<g id="k57-1"><use href="#Of" x="63" y="2183"/></g><g id="k57-2"><use href="#af" x="139" y="2183"/></g><g id="k57-3"><use href="#Gf" x="215" y="2183"/></g><g id="k57-4"><use href="#af" x="291" y="2183"/></g><g id="k57-5"><use href="#Lf" x="367" y="2183"/></g><g id="k57-6"><use href="#af" x="443" y="2183"/></g>
<g id="k58-1"><use href="#Ofb" x="101" y="2221"/></g><g id="k58-2"><use href="#af" x="177" y="2221"/></g><g id="k58-3"><use href="#Gfb" x="253" y="2221"/></g><g id="k58-4"><use href="#af" x="329" y="2221"/></g><g id="k58-5"><use href="#Lfb" x="405" y="2221"/></g>
<g id="k59-1"><use href="#Ob" x="63" y="2259"/></g><g id="k59-2"><use href="#ab" x="139" y="2259"/></g><g id="k59-3"><use href="#Gb" x="215" y="2259"/></g><g id="k59-4"><use href="#ab" x="291" y="2259"/></g><g id="k59-5"><use href="#Lb" x="367" y="2259"/></g><g id="k59-6"><use href="#ab" x="443" y="2259"/></g>
<g id="k60-1"><use href="#abf" x="101" y="2297"/></g><g id="k60-2"><use href="#Gbf" x="177" y="2297"/></g><g id="k60-3"><use href="#abf" x="253" y="2297"/></g><g id="k60-4"><use href="#Lbf" x="329" y="2297"/></g><g id="k60-5"><use href="#abf" x="405" y="2297"/></g>
<g id="k61-1"><use href="#Of" x="63" y="2335"/></g><g id="k61-2"><use href="#af" x="139" y="2335"/></g><g id="k61-3"><use href="#Gf" x="215" y="2335"/></g><g id="k61-4"><use href="#af" x="291" y="2335"/></g><g id="k61-5"><use href="#Lf" x="367" y="2335"/></g><g id="k61-6"><use href="#af" x="443" y="2335"/></g>
<g id="k62-1"><use href="#Of" x="101" y="2373"/></g><g id="k62-2"><use href="#af" x="177" y="2373"/></g><g id="k62-3"><use href="#Gf" x="253" y="2373"/></g><g id="k62-4"><use href="#af" x="329" y="2373"/></g><g id="k62-5"><use href="#Lf" x="405" y="2373"/></g>
<g id="k63-1"><use href="#af" x="63" y="2411"/></g><g id="k63-2"><use href="#Of" x="139" y="2411"/></g><g id="k63-3"><use href="#af" x="215" y="2411"/></g><g id="k63-4"><use href="#Gf" x="291" y="2411"/></g><g id="k63-5"><use href="#af" x="367" y="2411"/></g><g id="k63-6"><use href="#Lf" x="443" y="2411"/></g>
<g id="k64-1"><use href="#af" x="101" y="2449"/></g><g id="k64-2"><use href="#Ofb" x="177" y="2449"/></g><g id="k64-3"><use href="#af" x="253" y="2449"/></g><g id="k64-4"><use href="#Gfb" x="329" y="2449"/></g><g id="k64-5"><use href="#af" x="405" y="2449"/></g>
<g id="k65-1"><use href="#ab" x="63" y="2487"/></g><g id="k65-2"><use href="#Ob" x="139" y="2487"/></g><g id="k65-3"><use href="#ab" x="215" y="2487"/></g><g id="k65-4"><use href="#Gb" x="291" y="2487"/></g><g id="k65-5"><use href="#ab" x="367" y="2487"/></g><g id="k65-6"><use href="#Lb" x="443" y="2487"/></g>
<g id="k66-1"><use href="#Obf" x="101" y="2525"/></g><g id="k66-2"><use href="#ab" x="177" y="2525"/></g><g id="k66-3"><use href="#Gbf" x="253" y="2525"/></g><g id="k66-4"><use href="#ab" x="329" y="2525"/></g><g id="k66-5"><use href="#Lbf" x="405" y="2525"/></g>
<g id="k67-1"><use href="#af" x="63" y="2563"/></g><g id="k67-2"><use href="#Of" x="139" y="2563"/></g><g id="k67-3"><use href="#af" x="215" y="2563"/></g><g id="k67-4"><use href="#Gf" x="291" y="2563"/></g><g id="k67-5"><use href="#af" x="367" y="2563"/></g><g id="k67-6"><use href="#Lf" x="443" y="2563"/></g>
<g id="k68-1"><use href="#af" x="101" y="2601"/></g><g id="k68-2"><use href="#Of" x="177" y="2601"/></g><g id="k68-3"><use href="#af" x="253" y="2601"/></g><g id="k68-4"><use href="#Gf" x="329" y="2601"/></g><g id="k68-5"><use href="#af" x="405" y="2601"/></g>
<g id="k69-1"><use href="#Gf" x="63" y="2639"/></g><g id="k69-2"><use href="#af" x="139" y="2639"/></g><g id="k69-3"><use href="#Of" x="215" y="2639"/></g><g id="k69-4"><use href="#af" x="291" y="2639"/></g><g id="k69-5"><use href="#Gf" x="367" y="2639"/></g><g id="k69-6"><use href="#af" x="443" y="2639"/></g>
<g id="k70-1"><use href="#Gfb" x="101" y="2677"/></g><g id="k70-2"><use href="#af" x="177" y="2677"/></g><g id="k70-3"><use href="#Ofb" x="253" y="2677"/></g><g id="k70-4"><use href="#af" x="329" y="2677"/></g><g id="k70-5"><use href="#Gfb" x="405" y="2677"/></g>
<g id="k71-1"><use href="#Gb" x="63" y="2715"/></g><g id="k71-2"><use href="#ab" x="139" y="2715"/></g><g id="k71-3"><use href="#Ob" x="215" y="2715"/></g><g id="k71-4"><use href="#ab" x="291" y="2715"/></g><g id="k71-5"><use href="#Gb" x="367" y="2715"/></g><g id="k71-6"><use href="#ab" x="443" y="2715"/></g>
<g id="k72-1"><use href="#abf" x="101" y="2753"/></g><g id="k72-2"><use href="#Obf" x="177" y="2753"/></g><g id="k72-3"><use href="#abf" x="253" y="2753"/></g><g id="k72-4"><use href="#Gbf" x="329" y="2753"/></g><g id="k72-5"><use href="#abf" x="405" y="2753"/></g>
</g>
<g id="watermark">
<text x="177" y="1410" textLength="153" lengthAdjust="spacingAndGlyphs" font-family="Liberation Sans, Arial, sans-serif" font-weight="bold" font-size="16" fill="#3c3c3c" stroke="#ffffff" stroke-opacity="0.7" stroke-width="2" paint-order="stroke">BRACELETBOOK.COM</text>
</g>
</svg>
